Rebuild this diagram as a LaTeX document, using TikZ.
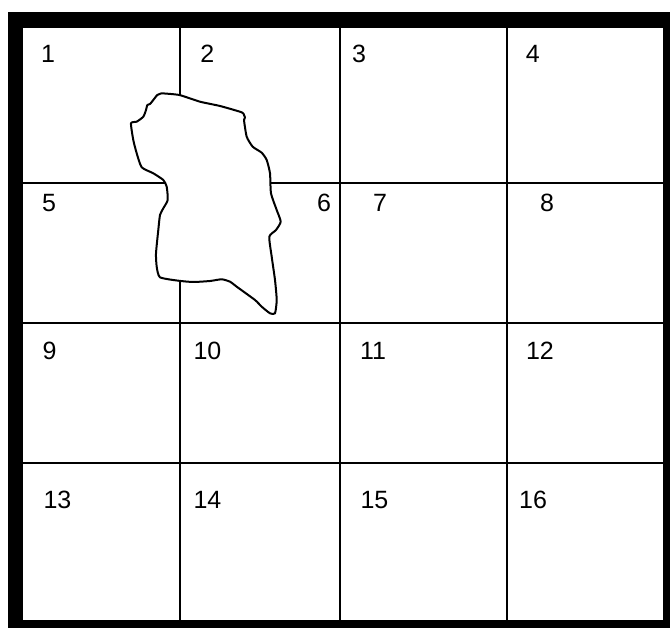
\documentclass[tikz,border=0pt]{standalone}
\usepackage{fontspec}
\setmainfont{Liberation Sans}
\usepackage{tikz}

\begin{document}
\begin{tikzpicture}[x=1pt,y=-1pt,
    cellnum/.style={inner sep=0pt,font=\fontsize{25}{29}\selectfont},
    gridline/.style={line width=2pt},
    blobline/.style={line width=2pt,line join=round,fill=white}]
    \useasboundingbox (0,0) rectangle (670,628);
    \fill[black] (8,12) rectangle (670,628);
    \fill[white] (23,28) rectangle (663,620);

    % grid
    \foreach \x in {180,340,507}{
        \draw[gridline] (\x,28) -- (\x,620);
    }
    \foreach \y in {183,323,463}{
        \draw[gridline] (23,\y) -- (663,\y);
    }

    % the patch
    \draw[blobline] plot[smooth,tension=0.35] coordinates {
        (161.7,93.3) (179.3,95) (200,101.7) (220,106) (241.7,112.3)
        (244,115) (245,117.3) (244,120) (246.7,136.7) (252.7,146.7)
        (261.7,152.7) (266.7,160) (270,173.3) (271,193.3) (276.7,210)
        (280.7,221.7) (276,230) (269.3,236.7) (271.7,256.7) (275,280)
        (276.7,300) (275,313.3) (270,313.3) (261.7,306.7) (255,300)
        (236.7,286.7) (230,281.7) (221.7,279.3) (210,281) (193.3,282)
        (178.3,280.7) (160,277.3) (156.7,266.7) (156,253.3) (158.3,230)
        (160,215) (163.3,208.3) (167.7,200) (166.7,186.7) (163.3,180)
        (153.3,173.3) (141.7,167.3) (136.7,153.3) (133.3,140) (131,123.3)
        (136.7,121.7) (143.3,116.7) (146,110) (147.3,105) (150,104)
        (153.3,100) (157.3,95) (161.7,93.3)} -- cycle;

    % cell numbers
    \node[cellnum] (n1)  at (48,53.5)    {1};
    \node[cellnum] (n2)  at (207.3,53.5) {2};
    \node[cellnum] (n3)  at (359,53.5)   {3};
    \node[cellnum] (n4)  at (532.7,53.5) {4};
    \node[cellnum] (n5)  at (49,203)     {5};
    \node[cellnum] (n6)  at (324,203)    {6};
    \node[cellnum] (n7)  at (380,203)    {7};
    \node[cellnum] (n8)  at (547,203)    {8};
    \node[cellnum] (n9)  at (49.7,351)   {9};
    \node[cellnum] (n10) at (207.5,351)  {10};
    \node[cellnum] (n11) at (373,351)    {11};
    \node[cellnum] (n12) at (540,351)    {12};
    \node[cellnum] (n13) at (57.5,500)   {13};
    \node[cellnum] (n14) at (207.5,500)  {14};
    \node[cellnum] (n15) at (374.5,500)  {15};
    \node[cellnum] (n16) at (533,500)    {16};
\end{tikzpicture}
\end{document}
